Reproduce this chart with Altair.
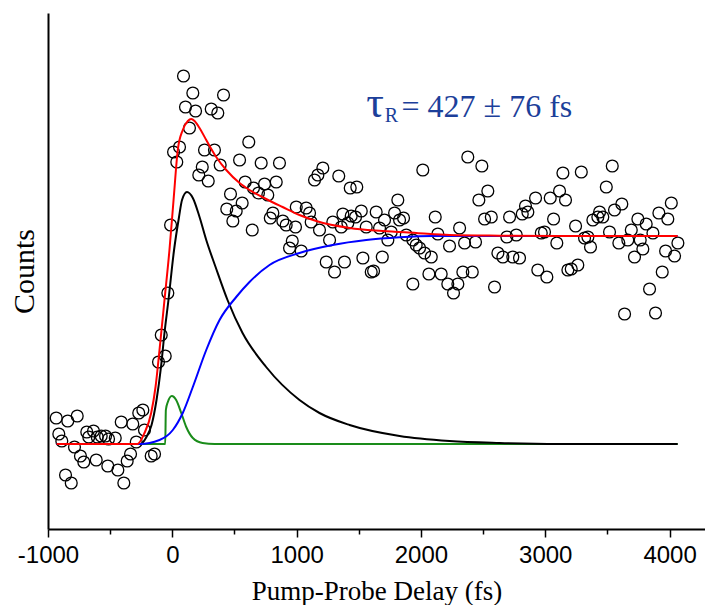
import altair as alt
import pandas as pd

# ---- scattered data (delay in fs, counts in arbitrary units) ----
scatter_t = [-934, -841, -765, -913, -889, -787, -739, -712, -612, -859, -813, -688, -634, -672,
             -604, -572, -537, -513, -459, -519, -438, -390, -363, -336, -411, -318, -270, -237,
             -224, -290, -170, -143, -111, -57, -89, -36, -14, 90, 165, 412, 106, 187, 313, 366,
             138, 10, 58, 36, 259, 339, 385, 241, 213, 289, 615, 541, 715, 862, 586, 653, 693,
             742, 836, 768, 468, 562, 438, 514, 487, 809, 788, 889, 916, 991, 997, 643, 965, 943,
             1037, 1077, 1104, 1144, 1171, 1211, 1339, 1431, 1484, 2015, 1814, 1117, 1184, 1291,
             1372, 1439, 1474, 1520, 1359, 1412, 1560, 1640, 1707, 1667, 1788, 1828, 1860, 1761,
             1734, 1265, 1238, 1305, 1385, 1533, 1600, 1619, 1689, 1882, 1935, 1962, 1989, 2029,
             2083, 2115, 2136, 2230, 2311, 2351, 1935, 2064, 2163, 2216, 2297, 2262, 2337, 2377,
             2490, 2538, 2466, 2512, 2566, 2439, 2413, 2592, 2619, 2659, 2739, 2793, 2691, 2767,
             2713, 2815, 2860, 2841, 2922, 3040, 3115, 3163, 3142, 3290, 3539, 3491, 3067, 2968,
             2994, 3093, 2940, 3013, 3182, 3209, 3262, 3244, 3316, 3343, 3364, 3383, 3423, 3463,
             3437, 3557, 3616, 3517, 3592, 3664, 3692, 3745, 3812, 3866, 3764, 3718, 3785, 3914,
             3986, 4014, 3968, 4040, 4067, 3941, 3839, 3638, 3887]
scatter_y = [111, 108, 113, 95, 88, 82, 73, 67, 69, 54, 46, 97, 98, 92,
             92, 93, 93, 90, 91, 63, 59, 46, 68, 75, 107, 105, 116, 119,
             99, 87, 73, 75, 167, 173, 194, 236, 304, 453, 436, 434, 422, 418, 420, 416,
             401, 377, 382, 367, 379, 379, 364, 362, 354, 348, 387, 369, 366, 366, 347, 341, 336,
             345, 347, 334, 335, 326, 320, 318, 308, 316, 311, 308, 304, 302, 322, 299, 288, 281,
             278, 321, 316, 349, 354, 361, 353, 341, 342, 359, 329, 307, 299, 307,
             315, 313, 312, 318, 302, 306, 302, 317, 309, 301, 316, 309, 311, 297,
             289, 289, 267, 257, 267, 271, 257, 258, 272, 294, 289, 284, 281, 276,
             272, 312, 295, 283, 301, 286, 245, 255, 255, 245, 245, 236, 257, 372,
             363, 338, 329, 310, 312, 287, 257, 242, 276, 272, 272, 271, 292, 294,
             312, 315, 317, 323, 331, 331, 338, 329, 356, 357, 363, 342, 310, 296,
             297, 286, 259, 252, 259, 260, 264, 303, 291, 292, 282, 309, 312, 312,
             317, 319, 325, 297, 286, 289, 299, 310, 305, 296, 289, 272, 280, 316,
             310, 326, 278, 273, 286, 257, 240, 215, 216]

# ---- fitted curves ----
red_t = [-931, -280, -224, -170, -135, -103, -63, -23, 10, 44, 84, 125, 152, 179, 219, 273, 353,
         434, 541, 621, 755, 887, 1023, 1158, 1426, 1691, 1962, 2230, 2632, 3115, 4065]
red_y = [85, 85, 96, 116, 142, 179, 229, 279, 329, 379, 399, 408, 410, 408, 401, 389, 372,
         359, 346, 339, 330, 322, 314, 308, 301, 298, 296, 294, 293.3, 293, 293]

black_t = [-931, -256, -208, -167, -127, -91, -63, -31, 14, 54, 78, 118, 165, 219, 273, 348,
           444, 565, 755, 1023, 1184, 1426, 1828, 2230, 2632, 3115, 4065]
black_y = [85, 85, 92, 104, 129, 162, 196, 229, 279, 312, 329, 337, 331, 312, 289, 262,
           229, 196, 162, 129, 116, 104, 93, 88, 86, 85, 85]

blue_t = [-931, -263, -103, 4, 84, 165, 273, 380, 514, 621, 782, 1023, 1289, 1560, 1828,
          2093, 2391, 4065]
blue_y = [85, 85, 89, 99, 116, 142, 179, 209, 232, 247, 264, 276, 284, 289, 291.7,
          293, 293, 293]

green_t = [-931, -57, -52, -36, -4, 31, 72, 112, 165, 243, 340, 4065]
green_y = [85, 85, 119, 127, 133, 129, 116, 102, 91, 86, 85, 85]

# ---- axis ticks ----
tick_values = [-1000, -500, 0, 500, 1000, 1500, 2000, 2500, 3000, 3500, 4000]

# ---- annotation ----
note_parts = ["τ", "R", "= 427 ± 76 fs"]
note_t = [1560, 1708, 1844]
note_y = [412, 407, 412]
note_size = [44, 20, 32]

x_scale = alt.Scale(domain=[-1000, 4285], nice=False, zero=False)
y_scale = alt.Scale(domain=[0, 516], nice=False, zero=False)

x_axis = alt.Axis(
    values=tick_values,
    title="Pump-Probe Delay (fs)",
    labelExpr="datum.value % 1000 === 0 ? '' + datum.value : ''",
    tickSize={"condition": {"test": "datum.value % 1000 === 0", "value": 8}, "value": 5},
    tickColor="black", tickWidth=1.5,
    domainColor="black", domainWidth=2,
    labelFont="Liberation Sans", labelFontSize=24, labelColor="black", labelPadding=6,
    labelFlush=False, labelOverlap=False,
    titleFont="Liberation Serif", titleFontSize=27, titleFontWeight="normal",
    titleColor="black", titleY=70, titleBaseline="alphabetic",
    grid=False,
)
y_axis = alt.Axis(
    title="Counts", labels=False, ticks=False,
    domainColor="black", domainWidth=2, grid=False,
    titleFont="Liberation Serif", titleFontSize=30, titleFontWeight="normal",
    titleColor="black", titleAngle=270, titleX=-15, titleY=258,
    titleBaseline="alphabetic", titleAlign="center",
)


def X():
    return alt.X("t:Q", scale=x_scale, axis=x_axis)


def Y():
    return alt.Y("y:Q", scale=y_scale, axis=y_axis)


scatter_df = pd.DataFrame({"t": scatter_t, "y": scatter_y})
points = alt.Chart(scatter_df).mark_point(
    shape="circle", filled=False, size=140, stroke="black", strokeWidth=1.3, opacity=1
).encode(x=X(), y=Y())


def curve(ts, ys, color):
    df = pd.DataFrame({"t": ts, "y": ys})
    return alt.Chart(df).mark_line(
        color=color, strokeWidth=2, interpolate="monotone"
    ).encode(x=X(), y=Y())


green = curve(green_t, green_y, "#1a8c1a")
black = curve(black_t, black_y, "black")
blue = curve(blue_t, blue_y, "#0000ff")
red = curve(red_t, red_y, "#ff0000")

note_df = pd.DataFrame({"t": note_t, "y": note_y, "txt": note_parts, "fs": note_size})
note = alt.Chart(note_df).mark_text(
    align="left", baseline="alphabetic", font="Liberation Serif", color="#1c3f9a"
).encode(x=X(), y=Y(), text="txt:N", size=alt.Size("fs:Q", scale=None))

chart = alt.layer(points, green, black, blue, red, note).properties(
    width=657, height=516,
    padding={"left": 48, "top": 13, "right": 0, "bottom": 76},
    autosize=alt.AutoSizeParams(type="none"),
).configure_view(stroke=None)

chart.save("out.html", embed_options={"renderer": "svg", "actions": False})
